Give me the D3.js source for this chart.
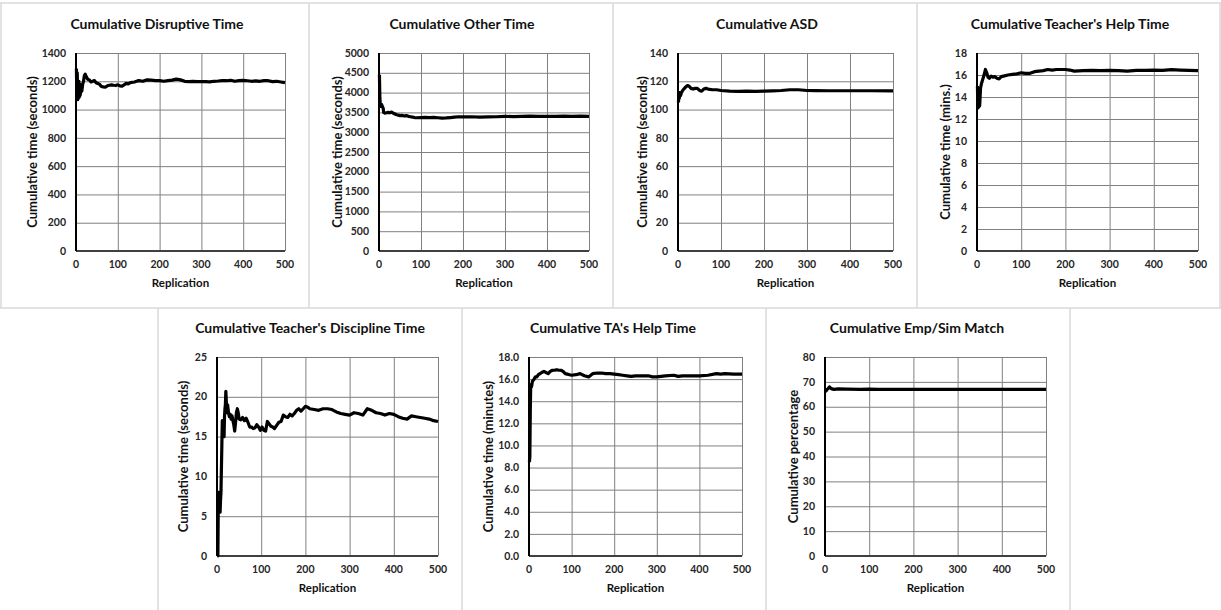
<!DOCTYPE html>
<html>
<head>
<meta charset="utf-8">
<script src="https://cdn.jsdelivr.net/npm/d3@7"></script>
<style>
  html, body { margin: 0; padding: 0; background: #fff; }
  svg { display: block; }
  text { font-family: Lato, "Open Sans", sans-serif; font-weight: bold; }
</style>
</head>
<body>
<svg id="chart" width="1221" height="610"></svg>
<script>
// ---------------- DATA ----------------
// Each series: [replication, cumulative value].
const disruptiveTime = [
  [1,1290],[2,1080],[3,1260],[4,1070],[5,1150],[6,1080],[7,1200],[8,1090],[9,1180],[10,1100],
  [12,1160],[14,1130],[16,1180],[18,1200],[20,1240],[22,1250],[25,1230],[28,1215],[32,1210],
  [36,1195],[40,1200],[44,1205],[48,1190],[52,1185],[56,1180],[60,1165],[65,1160],[70,1158],
  [75,1168],[80,1172],[85,1175],[90,1172],[95,1170],[100,1175],[105,1168],[110,1165],[115,1175],
  [120,1185],[125,1182],[130,1190],[140,1195],[150,1205],[160,1200],[170,1210],[180,1208],
  [190,1205],[200,1205],[210,1200],[220,1205],[230,1208],[240,1215],[250,1210],[260,1200],
  [270,1198],[280,1200],[290,1198],[300,1197],[310,1198],[320,1196],[330,1200],[340,1202],
  [350,1205],[360,1204],[370,1207],[380,1200],[390,1205],[400,1207],[410,1204],[420,1200],
  [430,1203],[440,1200],[450,1205],[460,1204],[470,1198],[480,1200],[490,1195],[500,1190]
];
const otherTime = [
  [1,4450],[2,3900],[3,3700],[4,3650],[6,3700],[8,3650],[10,3600],[11,3500],[14,3480],[18,3490],
  [22,3500],[26,3490],[30,3510],[34,3480],[38,3460],[42,3440],[46,3430],[50,3420],[55,3425],
  [60,3410],[65,3420],[70,3400],[75,3390],[80,3380],[85,3370],[90,3365],[100,3370],[110,3375],
  [120,3370],[130,3375],[140,3365],[150,3355],[160,3360],[170,3370],[180,3380],[190,3390],
  [200,3385],[220,3390],[240,3380],[260,3385],[280,3390],[300,3400],[320,3395],[340,3400],
  [360,3405],[380,3400],[400,3400],[420,3400],[440,3405],[460,3400],[480,3405],[500,3400]
];
const asdTime = [
  [1,105],[2,110],[3,108],[4,112],[6,110],[8,112],[10,113],[12,114],[15,115],[18,116],[22,117],
  [26,116.5],[30,115],[35,114.5],[40,115],[45,115],[50,113.5],[55,113],[60,114.5],[65,115],
  [70,114.5],[80,114],[90,114],[100,113.5],[120,113],[140,112.8],[160,113],[180,112.8],[200,113],
  [220,113.2],[240,113.5],[260,114],[280,114],[300,113.5],[320,113.4],[350,113.3],[400,113.3],
  [450,113.3],[500,113.2]
];
const teacherHelpTime = [
  [1,15],[2,13],[3,14.8],[4,13.1],[5,14.5],[6,13.2],[8,14.8],[10,15.2],[13,15.6],[16,16],[19,16.5],
  [22,16.2],[25,15.8],[28,15.7],[32,15.9],[36,15.8],[40,15.85],[45,15.7],[50,15.65],[55,15.85],
  [60,15.9],[70,16],[80,16.05],[90,16.1],[100,16.2],[110,16.15],[120,16.15],[130,16.3],[140,16.35],
  [150,16.4],[160,16.5],[170,16.45],[180,16.5],[200,16.5],[210,16.45],[220,16.35],[240,16.4],
  [260,16.42],[280,16.4],[300,16.42],[320,16.4],[340,16.35],[360,16.42],[380,16.42],[400,16.45],
  [420,16.42],[440,16.48],[460,16.45],[480,16.42],[500,16.4]
];
const teacherDisciplineTime = [
  [1,0],[2,0],[3,7.5],[4,8],[5,6],[6,8],[7,5.5],[8,7],[9,8],[11,14],[12,17],[13,15],[14,16],[15,17],
  [16,15],[17,17.5],[18,18.5],[19,19],[20,20.7],[21,19.5],[22,18],[24,19],[26,18],[28,17.5],
  [30,17.8],[32,17.2],[34,17.6],[36,17],[38,16.5],[40,15.7],[42,16.8],[44,18],[46,18.5],[48,18],
  [50,17.2],[54,17.1],[58,17.4],[62,17],[66,17.3],[70,16.8],[74,16.2],[78,16.2],[82,16],[86,16.1],
  [90,16.5],[94,16.2],[98,15.8],[102,16.2],[106,15.8],[110,15.7],[114,16.9],[118,16.6],[122,16.3],
  [126,16.2],[130,16],[135,16.4],[140,16.8],[145,16.9],[150,17.7],[155,17.5],[160,17.4],[165,17.8],
  [170,17.6],[175,17.9],[180,18.3],[185,18.5],[190,18.2],[195,18.5],[200,18.8],[205,18.7],
  [210,18.5],[220,18.4],[230,18.3],[240,18.5],[250,18.5],[260,18.4],[270,18.1],[280,17.9],
  [290,17.8],[300,17.7],[310,18],[320,17.9],[330,17.7],[340,18.5],[350,18.3],[360,18.0],
  [370,17.9],[380,17.7],[390,17.9],[400,17.8],[410,17.5],[420,17.3],[430,17.2],[440,17.6],
  [450,17.5],[460,17.4],[470,17.3],[480,17.2],[490,17.0],[500,16.9]
];
const taHelpTime = [
  [1,8.5],[2,9],[3,13],[4,15.5],[6,15.3],[8,15.8],[10,15.9],[12,16],[15,16.2],[18,16.2],[22,16.4],
  [26,16.5],[30,16.6],[35,16.7],[40,16.6],[45,16.5],[50,16.7],[55,16.8],[60,16.8],[65,16.85],
  [70,16.8],[75,16.8],[80,16.7],[85,16.5],[90,16.45],[95,16.4],[100,16.35],[110,16.4],[120,16.5],
  [130,16.3],[140,16.2],[150,16.5],[160,16.55],[170,16.55],[180,16.5],[190,16.5],[200,16.45],
  [210,16.4],[220,16.35],[230,16.3],[240,16.25],[250,16.3],[260,16.3],[280,16.3],[290,16.2],
  [300,16.2],[310,16.25],[320,16.3],[340,16.35],[350,16.25],[360,16.3],[380,16.3],[400,16.3],
  [420,16.35],[440,16.5],[450,16.45],[460,16.5],[480,16.45],[500,16.45]
];
const empSimMatch = [
  [1,66],[3,66.5],[5,67],[8,67.5],[10,68],[14,67.3],[20,67],[30,67.2],[50,67.1],[80,67],
  [100,67.1],[120,67],[200,67],[300,67],[400,67],[500,67]
];

const titles = [
  "Cumulative Disruptive Time", "Cumulative Other Time", "Cumulative ASD",
  "Cumulative Teacher's Help Time", "Cumulative Teacher's Discipline Time",
  "Cumulative TA's Help Time", "Cumulative Emp/Sim Match"
];
const yLabels = [
  "Cumulative time (seconds)", "Cumulative time (seconds)", "Cumulative time (seconds)",
  "Cumulative time (mins.)", "Cumulative time (seconds)", "Cumulative time (minutes)",
  "Cumulative percentage"
];
const xLabel = "Replication";
const yMax = [1400, 5000, 140, 18, 25, 18, 80];
const yStep = [200, 500, 20, 2, 5, 2, 10];
const yFormat = ["d", "d", "d", "d", "d", ".1f", "d"];
const xTicks = [0, 100, 200, 300, 400, 500];
const seriesList = [disruptiveTime, otherTime, asdTime, teacherHelpTime,
                    teacherDisciplineTime, taHelpTime, empSimMatch];

// ---------------- LAYOUT ----------------
const layout = [
  {l: 76,  r: 285,  t: 53,  b: 251, ylx: 32,  tx: 157},
  {l: 379, r: 589,  t: 53,  b: 251, ylx: 337, tx: 462},
  {l: 678, r: 893,  t: 53,  b: 251, ylx: 642, tx: 767},
  {l: 977, r: 1198, t: 53,  b: 251, ylx: 945, tx: 1070},
  {l: 217, r: 438,  t: 357, b: 556, ylx: 183, tx: 310},
  {l: 529, r: 742,  t: 357, b: 556, ylx: 488, tx: 613},
  {l: 825, r: 1046, t: 357, b: 556, ylx: 793, tx: 917}
];

const svg = d3.select("#chart");

// panel borders (table grid)
const borderColor = "#d9d9d9";
const bg = svg.append("g").attr("stroke", borderColor).attr("stroke-width", 1.5);
bg.append("line").attr("x1", 0).attr("x2", 1221).attr("y1", 3).attr("y2", 3);
bg.append("line").attr("x1", 0).attr("x2", 1221).attr("y1", 308).attr("y2", 308);
[1, 309, 613, 917, 1220].forEach(x =>
  bg.append("line").attr("x1", x).attr("x2", x).attr("y1", 3).attr("y2", 308));
[158, 462, 766, 1070].forEach(x =>
  bg.append("line").attr("x1", x).attr("x2", x).attr("y1", 308).attr("y2", 610));

seriesList.forEach((data, i) => {
  const L = layout[i];
  const x = d3.scaleLinear().domain([0, 500]).range([L.l, L.r]);
  const y = d3.scaleLinear().domain([0, yMax[i]]).range([L.b, L.t]);
  const g = svg.append("g");
  const yTicks = d3.range(0, yMax[i] + yStep[i] / 2, yStep[i]);

  // gridlines
  g.append("g").attr("transform", `translate(0,${L.b})`)
    .call(d3.axisBottom(x).tickValues(xTicks).tickSize(-(L.b - L.t)).tickFormat(""))
    .call(s => s.select(".domain").remove())
    .call(s => s.selectAll("line").attr("stroke", "#808080").attr("stroke-width", 1));
  g.append("g").attr("transform", `translate(${L.l},0)`)
    .call(d3.axisLeft(y).tickValues(yTicks).tickSize(-(L.r - L.l)).tickFormat(""))
    .call(s => s.select(".domain").remove())
    .call(s => s.selectAll("line").attr("stroke", "#808080").attr("stroke-width", 1));

  // axis lines
  g.append("line").attr("x1", L.l).attr("x2", L.r).attr("y1", L.b).attr("y2", L.b)
    .attr("stroke", "#404040").attr("stroke-width", 2);
  g.append("line").attr("x1", L.l).attr("x2", L.l).attr("y1", L.t).attr("y2", L.b)
    .attr("stroke", "#000").attr("stroke-width", 2);

  // tick labels
  const fmt = d3.format(yFormat[i]);
  g.selectAll(".yt").data(yTicks).join("text")
    .attr("x", L.l - 10).attr("y", d => y(d)).attr("dy", "0.35em")
    .attr("text-anchor", "end").attr("font-size", 10.5).attr("fill", "#262626")
    .text(d => fmt(d));
  g.selectAll(".xt").data(xTicks).join("text")
    .attr("x", d => x(d)).attr("y", L.b + 17)
    .attr("text-anchor", "middle").attr("font-size", 10.5).attr("fill", "#262626")
    .text(d => d);

  // data line
  g.append("path").datum(data)
    .attr("fill", "none").attr("stroke", "#000").attr("stroke-width", 3.2)
    .attr("stroke-linejoin", "round")
    .attr("d", d3.line().x(d => x(d[0])).y(d => y(d[1])));

  // titles
  g.append("text").attr("x", L.tx).attr("y", L.t - 24)
    .attr("text-anchor", "middle").attr("font-size", 14).attr("fill", "#111")
    .text(titles[i]);
  g.append("text").attr("x", (L.l + L.r) / 2).attr("y", L.b + 36)
    .attr("text-anchor", "middle").attr("font-size", 11.5).attr("fill", "#111")
    .text(xLabel);
  g.append("text")
    .attr("transform", `translate(${L.ylx},${(L.t + L.b) / 2}) rotate(-90)`)
    .attr("text-anchor", "middle").attr("dy", "0.35em").attr("font-size", 13).attr("fill", "#111")
    .text(yLabels[i]);
});
</script>
</body>
</html>
